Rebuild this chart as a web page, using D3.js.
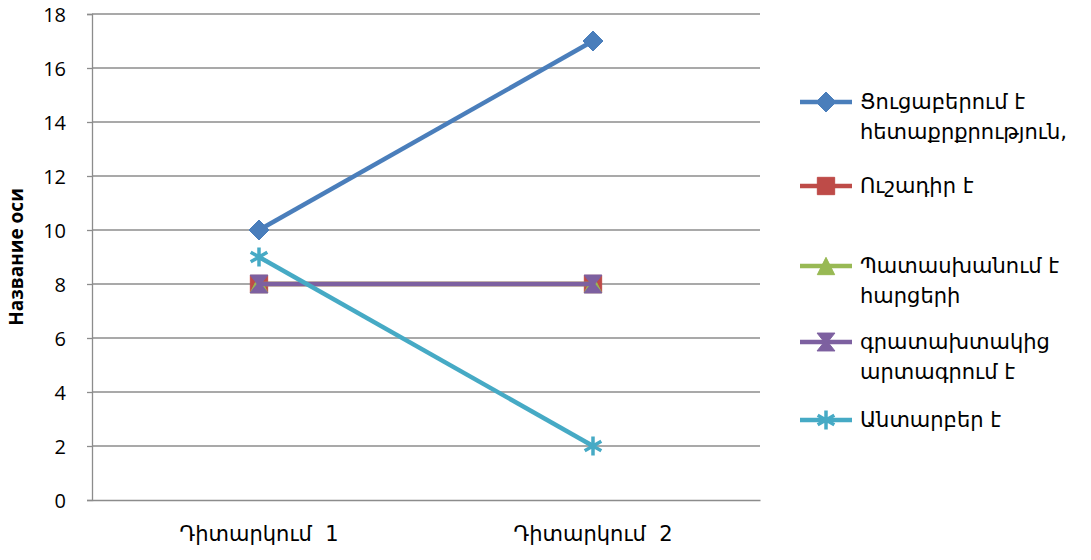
<!DOCTYPE html>
<html>
<head>
<meta charset="utf-8">
<script src="https://cdn.jsdelivr.net/npm/d3@7"></script>
<style>
  body { margin: 0; background: #fff; }
  svg { display: block; }
  .num { font-family: "Open Sans", "Liberation Sans", sans-serif; }
  .arm { font-family: "DejaVu Sans", sans-serif; white-space: pre; }
</style>
</head>
<body>
<svg id="chart" width="1091" height="560"></svg>
<script>
const categories = ["Դիտարկում  1", "Դիտարկում  2"];
const seriesNames = [
  ["Ցուցաբերում է", "հետաքրքրություն,"],
  ["Ուշադիր է"],
  ["Պատասխանում է", "հարցերի"],
  ["գրատախտակից", "արտագրում է"],
  ["Անտարբեր է"]
];
const seriesValues = [
  [10, 17],
  [8, 8],
  [8, 8],
  [8, 8],
  [9, 2]
];
const seriesColors = ["#4a7ebb", "#be4b48", "#98b954", "#7d60a0", "#46aac5"];
const seriesMarkers = ["diamond", "square", "triangle", "x", "asterisk"];
const yTicks = [0, 2, 4, 6, 8, 10, 12, 14, 16, 18];
const yTitle = "Название оси";

const svg = d3.select("#chart");
const plot = { left: 92, right: 760, top: 14, bottom: 500 };

const x = d3.scaleBand().domain(categories).range([plot.left, plot.right]);
const y = d3.scaleLinear().domain([0, 18]).range([plot.bottom, plot.top]);

// gridlines
svg.append("g").selectAll("line").data(yTicks.filter(t => t > 0)).join("line")
  .attr("x1", plot.left).attr("x2", plot.right)
  .attr("y1", d => y(d)).attr("y2", d => y(d))
  .attr("stroke", "#8c8c8c").attr("stroke-width", 1.3);

// y axis
const yAxis = d3.axisLeft(y).tickValues(yTicks).tickSize(5).tickPadding(21);
const gy = svg.append("g").attr("transform", `translate(${plot.left},0)`).call(yAxis);
gy.select(".domain").attr("stroke", "#8c8c8c").attr("stroke-width", 1.3);
gy.selectAll(".tick line").attr("stroke", "#8c8c8c").attr("stroke-width", 1.3);
gy.selectAll(".tick text").attr("class", "num").attr("font-size", 20).attr("fill", "#000")
  .attr("dy", "0.35em");

// x axis
const xAxis = d3.axisBottom(x).tickSize(0).tickPadding(26);
const gx = svg.append("g").attr("transform", `translate(0,${plot.bottom})`).call(xAxis);
gx.select(".domain").attr("stroke", "#8c8c8c").attr("stroke-width", 1.3);
gx.selectAll(".tick text").attr("class", "arm").attr("font-size", 21).attr("fill", "#000");

// axis title
svg.append("text")
  .attr("transform", `translate(23,${(plot.top + plot.bottom) / 2}) rotate(-90)`)
  .attr("text-anchor", "middle")
  .attr("font-family", "'Open Sans', 'Liberation Sans', sans-serif")
  .attr("font-weight", "bold").attr("font-size", 19)
  .text(yTitle);

const diamondType = {
  draw(ctx, size) {
    const r = Math.sqrt(size / 2);
    ctx.moveTo(0, -r); ctx.lineTo(r, 0); ctx.lineTo(0, r); ctx.lineTo(-r, 0); ctx.closePath();
  }
};
const hourglassType = {
  draw(ctx, size) {
    const r = Math.sqrt(size) / 2, a = r * 0.2;
    ctx.moveTo(-r, -r); ctx.lineTo(r, -r); ctx.lineTo(a, 0); ctx.lineTo(r, r);
    ctx.lineTo(-r, r); ctx.lineTo(-a, 0); ctx.closePath();
  }
};
const triangleType = {
  draw(ctx, size) {
    const h = Math.sqrt(size);
    ctx.moveTo(0, -h / 2); ctx.lineTo(h / 2, h / 2); ctx.lineTo(-h / 2, h / 2); ctx.closePath();
  }
};
function symbolFor(m) {
  return {
    diamond: d3.symbol().type(diamondType).size(200),
    square: d3.symbol().type(d3.symbolSquare).size(300),
    triangle: d3.symbol().type(triangleType).size(300),
    x: d3.symbol().type(hourglassType).size(320),
    asterisk: d3.symbol().type(d3.symbolAsterisk).size(260)
  }[m];
}
function styleMarker(sel, m, color) {
  if (m === "asterisk") {
    sel.attr("fill", "none").attr("stroke", color).attr("stroke-width", 3.5);
  } else {
    sel.attr("fill", color).attr("stroke", color).attr("stroke-width", 1);
  }
}

const line = d3.line().x((d, i) => x(categories[i]) + x.bandwidth() / 2).y(d => y(d));

seriesValues.forEach((vals, si) => {
  const g = svg.append("g");
  g.append("path").datum(vals).attr("d", line)
    .attr("fill", "none").attr("stroke", seriesColors[si]).attr("stroke-width", 4.5)
    .attr("stroke-linejoin", "round");
  g.selectAll("path.mk").data(vals).join("path").attr("class", "mk")
    .attr("transform", (d, i) => `translate(${x(categories[i]) + x.bandwidth() / 2},${y(d)})`)
    .attr("d", symbolFor(seriesMarkers[si])())
    .call(styleMarker, seriesMarkers[si], seriesColors[si]);
});

// legend
const legendRows = [102, 186, 266, 342, 420];
const lg = svg.append("g");
seriesNames.forEach((name, si) => {
  const yy = legendRows[si];
  lg.append("line").attr("x1", 800).attr("x2", 852).attr("y1", yy).attr("y2", yy)
    .attr("stroke", seriesColors[si]).attr("stroke-width", 4.5);
  lg.append("path").attr("transform", `translate(826,${yy})`)
    .attr("d", symbolFor(seriesMarkers[si])())
    .call(styleMarker, seriesMarkers[si], seriesColors[si]);
  const t = lg.append("text").attr("class", "arm").attr("font-size", 21).attr("x", 860).attr("y", yy + 7);
  name.forEach((ln, li) => {
    t.append("tspan").attr("x", 860).attr("dy", li === 0 ? 0 : 30).text(ln);
  });
});
</script>
</body>
</html>
